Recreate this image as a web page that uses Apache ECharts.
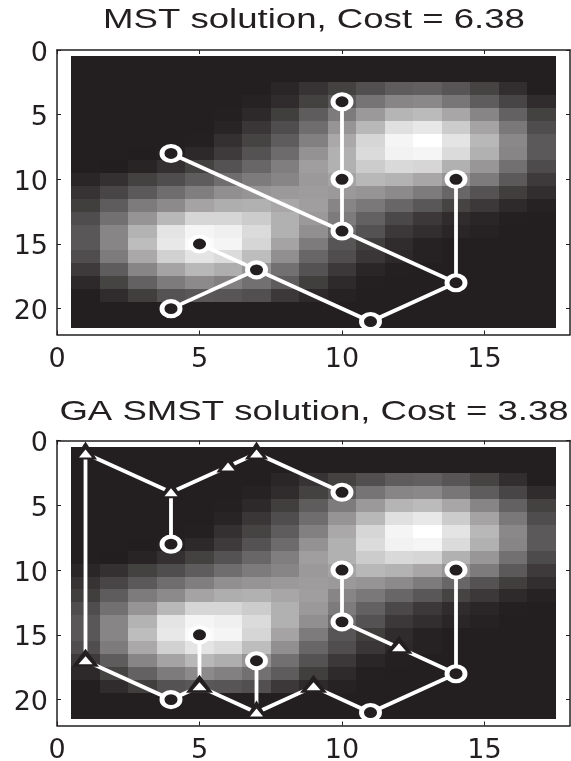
<!DOCTYPE html>
<html><head><meta charset="utf-8">
<script src="https://cdn.jsdelivr.net/npm/echarts@6/dist/echarts.min.js"></script>
<style>html,body{margin:0;padding:0;background:#fff}#c{width:571px;height:761px}</style>
</head><body><div id="c"></div>
<script>
const titles = ['MST solution, Cost = 6.38', 'GA SMST solution, Cost = 3.38'];
const xTicks = [0, 5, 10, 15];
const yTicks = [0, 5, 10, 15, 20];
// Grey level per image cell: rows y=1..21, columns x=1..17
const D = 35;
const grey = [
[D,D,D,D,D,D,D,D,D,D,D,D,D,D,D,D,D],
[D,D,D,D,D,D,D,D,D,D,D,D,D,D,D,D,D],
[D,D,D,D,D,D,D,42,55,68,82,95,98,88,70,50,D],
[D,D,D,D,D,D,38,48,68,92,118,135,138,120,95,72,48],
[D,D,D,D,D,36,45,65,95,125,155,182,188,168,135,100,68],
[D,D,D,D,D,40,58,80,112,150,185,225,232,205,165,122,80],
[D,D,D,D,36,52,70,95,130,170,215,245,255,228,185,138,92],
[D,D,34,36,45,62,85,110,148,178,220,242,245,220,178,135,92],
[D,34,40,52,68,85,105,128,160,178,205,218,215,178,152,115,78],
[42,52,68,80,95,112,125,135,155,165,185,180,168,150,125,92,62],
[55,72,92,112,128,145,150,155,158,155,150,140,125,105,85,65,50],
[65,95,125,140,165,175,178,168,160,135,122,105,90,70,60,46,38],
[80,115,150,185,215,215,205,178,155,125,100,75,60,48,42,36,D],
[90,135,180,228,245,240,220,178,145,110,85,60,50,42,38,D,D],
[90,135,190,232,250,245,215,165,125,88,65,48,38,35,D,D,D],
[80,125,170,210,228,220,190,145,105,80,58,45,38,D,D,D,D],
[62,95,135,165,185,175,150,115,85,60,42,36,D,D,D,D,D],
[45,70,100,125,140,130,115,95,65,46,36,D,D,D,D,D,D],
[D,48,65,85,90,88,82,60,45,38,D,D,D,D,D,D,D],
[D,D,D,D,D,D,D,D,D,D,D,D,D,D,D,D,D],
[D,D,D,D,D,D,D,D,D,D,D,D,D,D,D,D,D]
];
const terminals = [[4,8],[10,4],[10,10],[10,14],[14,10],[14,18],[11,21],[7,17],[5,15],[4,20]];
const mstPaths = [
  [[4,8],[10,14]],
  [[10,4],[10,10],[10,14],[14,18],[11,21],[7,17],[5,15]],
  [[14,10],[14,18]],
  [[7,17],[4,20]]
];
const gaPaths = [
  [[4,8],[4,4],[1,1],[1,17],[4,20],[5,19],[7,21],[9,19],[11,21],[14,18],[12,16],[10,14],[10,10]],
  [[4,4],[6,2],[7,1],[10,4]],
  [[5,15],[5,19]],
  [[7,17],[7,21]],
  [[14,10],[14,18]]
];
const gaLargeSteiner = [[1,17],[5,19],[9,19],[12,16]];
const gaSmallSteiner = [[1,1],[4,4],[6,2],[7,1],[7,21]];

const INK = '#231f20';
const FONT = '"DejaVu Sans"';
const cells = [];
grey.forEach((row, r) => row.forEach((v, c) => cells.push([c + 1, r + 1, v])));

const grids = [
  {left: 57, top: 50, width: 513, height: 284.5, outerBoundsMode: 'none'},
  {left: 57, top: 440.5, width: 513, height: 285, outerBoundsMode: 'none'}
];
function shade(v) {
  const t = (v - 35) / 220;
  return `rgb(${Math.round(35 + t * 220)},${Math.round(31 + t * 224)},${Math.round(32 + t * 223)})`;
}
function makeX(g, pos) {
  return {type: 'value', gridIndex: g, position: pos, min: 0, max: 18,
    axisLine: {show: true, onZero: false, lineStyle: {color: INK, width: 1.5}},
    axisTick: {show: true, inside: true, length: 4, customValues: xTicks, lineStyle: {color: INK, width: 1}},
    axisLabel: pos === 'bottom' ? {show: true, customValues: xTicks, margin: 12, color: INK, fontFamily: FONT, fontSize: 27} : {show: false},
    splitLine: {show: false}};
}
function makeY(g, pos) {
  return {type: 'value', gridIndex: g, position: pos, min: 0, max: 22, inverse: true,
    axisLine: {show: true, onZero: false, lineStyle: {color: INK, width: 1.5}},
    axisTick: {show: true, inside: true, length: 4, customValues: yTicks, lineStyle: {color: INK, width: 1}},
    axisLabel: pos === 'left' ? {show: true, customValues: yTicks, margin: 9, formatter: '{a|{value}}',
      rich: {a: {padding: [7, 0, 0, 0], color: INK, fontFamily: FONT, fontSize: 27}},
      color: INK, fontFamily: FONT, fontSize: 27} : {show: false},
    splitLine: {show: false}};
}
function panelSeries(g, paths, large, small) {
  const ax = {xAxisIndex: g * 2, yAxisIndex: g * 2};
  const s = [];
  s.push({type: 'custom', ...ax, z: 1, silent: true, clip: false, data: cells,
    encode: {x: 0, y: 1},
    renderItem(params, api) {
      const x = api.value(0), y = api.value(1);
      const a = api.coord([x - 0.5, y - 0.5]), b = api.coord([x + 0.5, y + 0.5]);
      const x0 = Math.round(a[0]), y0 = Math.round(a[1]);
      return {type: 'rect', shape: {x: x0, y: y0, width: Math.round(b[0]) - x0, height: Math.round(b[1]) - y0},
        style: {fill: shade(api.value(2))}};
    }});
  paths.forEach(p => s.push({type: 'line', ...ax, z: 2, silent: true, clip: false, data: p, symbol: 'none',
    lineStyle: {color: '#fff', width: 3.8, opacity: 1, cap: 'butt', join: 'miter'}}));
  const tri = (data, size, off, color, z) => ({type: 'scatter', ...ax, z, silent: true, clip: false, data,
    symbol: 'triangle', symbolSize: size, symbolOffset: off, itemStyle: {color, opacity: 1}});
  if (large.length) {
    s.push(tri(large, [27, 18], [0, -3], INK, 3));
    s.push(tri(large, [14, 8], [0, -0.5], '#fff', 4));
  }
  if (small.length) {
    s.push(tri(small, [23, 18], [0, -3], INK, 3));
    s.push(tri(small, [13, 8], [0, 0], '#fff', 4));
  }
  s.push({type: 'scatter', ...ax, z: 5, silent: true, clip: false, data: terminals,
    symbol: 'circle', symbolSize: [18, 15],
    itemStyle: {color: INK, opacity: 1, borderColor: '#fff', borderWidth: 4.5}});
  return s;
}
const titleText = (t, y) => ({type: 'text', x: 314, y, scaleX: 1.33, silent: true,
  style: {text: t, x: 0, y: 0, align: 'center', verticalAlign: 'middle', fill: INK,
    font: '27.5px "Liberation Sans"'}});
const chart = echarts.init(document.getElementById('c'), null, {renderer: 'canvas'});
chart.setOption({
  animation: false,
  backgroundColor: '#fff',
  graphic: [titleText(titles[0], 20), titleText(titles[1], 412)],
  grid: grids,
  xAxis: [makeX(0, 'bottom'), makeX(0, 'top'), makeX(1, 'bottom'), makeX(1, 'top')],
  yAxis: [makeY(0, 'left'), makeY(0, 'right'), makeY(1, 'left'), makeY(1, 'right')],
  series: [...panelSeries(0, mstPaths, [], []), ...panelSeries(1, gaPaths, gaLargeSteiner, gaSmallSteiner)]
});
</script></body></html>
